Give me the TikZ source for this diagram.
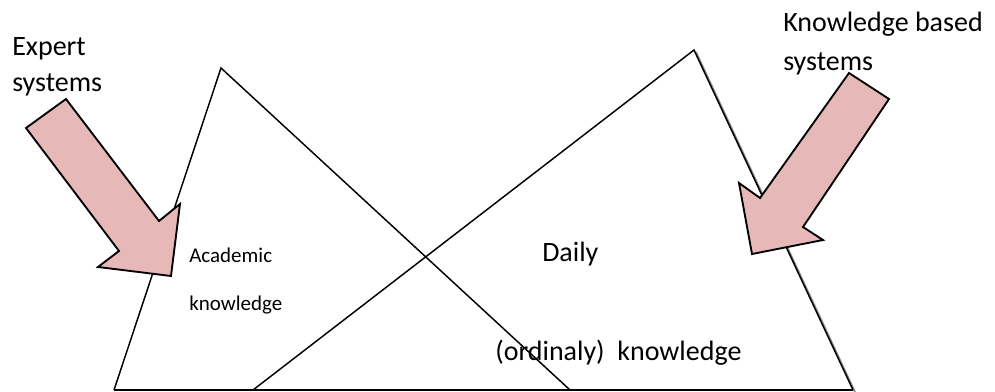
\documentclass[tikz,border=0pt]{standalone}
\usepackage{fontspec}
\setmainfont{Carlito}
\usepackage{tikz}
\usetikzlibrary{calc}
\usepackage{xcolor}
\definecolor{arrowpink}{HTML}{E6B9B8}

\begin{document}
\begin{tikzpicture}[
    x=0.75pt, y=-0.75pt,
    every node/.style={inner sep=0pt, anchor=base west},
    tri/.style={draw=black, line width=1.1pt, line join=miter},
    trishadow/.style={draw=black!45, line width=1.3pt},
    blockarrow/.style={draw=black, fill=arrowpink, line width=1.4pt, line join=miter},
    bigtext/.style={font=\fontsize{21}{25}\selectfont},
    smalltext/.style={font=\fontsize{15.75}{19}\selectfont},
]
\useasboundingbox (0,0) rectangle (995,392);

% ── Triangle corners ──
\coordinate (acadL) at (114,390);
\coordinate (acadTop) at (221,68);
\coordinate (acadR) at (570,390);
\coordinate (dailyL) at (253,390);
\coordinate (dailyTop) at (694,50);
\coordinate (dailyR) at (853,390);

% ── Shadow of the right triangle's right side ──
\draw[trishadow] ($(dailyTop)+(2,2)$) -- ($(dailyR)+(2,2)$);

% ── Triangles ──
\draw[tri] (acadL) -- (acadTop) -- (acadR);
\draw[tri] (dailyL) -- (dailyTop) -- (dailyR);
\draw[tri] (acadL) -- (dailyR);

% ── Block arrows ──
% Expert systems arrow
\draw[blockarrow] (26,128) -- (66,99) -- (159,221) -- (180,204)
    -- (171,276) -- (98,267) -- (119,251) -- cycle;
% Knowledge based systems arrow
\draw[blockarrow] (849,73) -- (889,99) -- (803,227) -- (823,240)
    -- (752,254) -- (739,183) -- (760,198) -- cycle;

% ── Labels ──
\node[bigtext] (expert) at (12,56) {Expert};
\node[bigtext] (expertsys) at (12,92) {systems};
\node[bigtext] (kbased) at (783,32) {Knowledge based};
\node[bigtext] (kbasedsys) at (783,71) {systems};
\node[smalltext] (academic) at (189,262) {Academic};
\node[smalltext] (academicknow) at (189,310) {knowledge};
\node[bigtext] (daily) at (542,261) {Daily};
\node[bigtext] (ordinary) at (495,360) {(ordinaly)\ \ knowledge};

\end{tikzpicture}
\end{document}
